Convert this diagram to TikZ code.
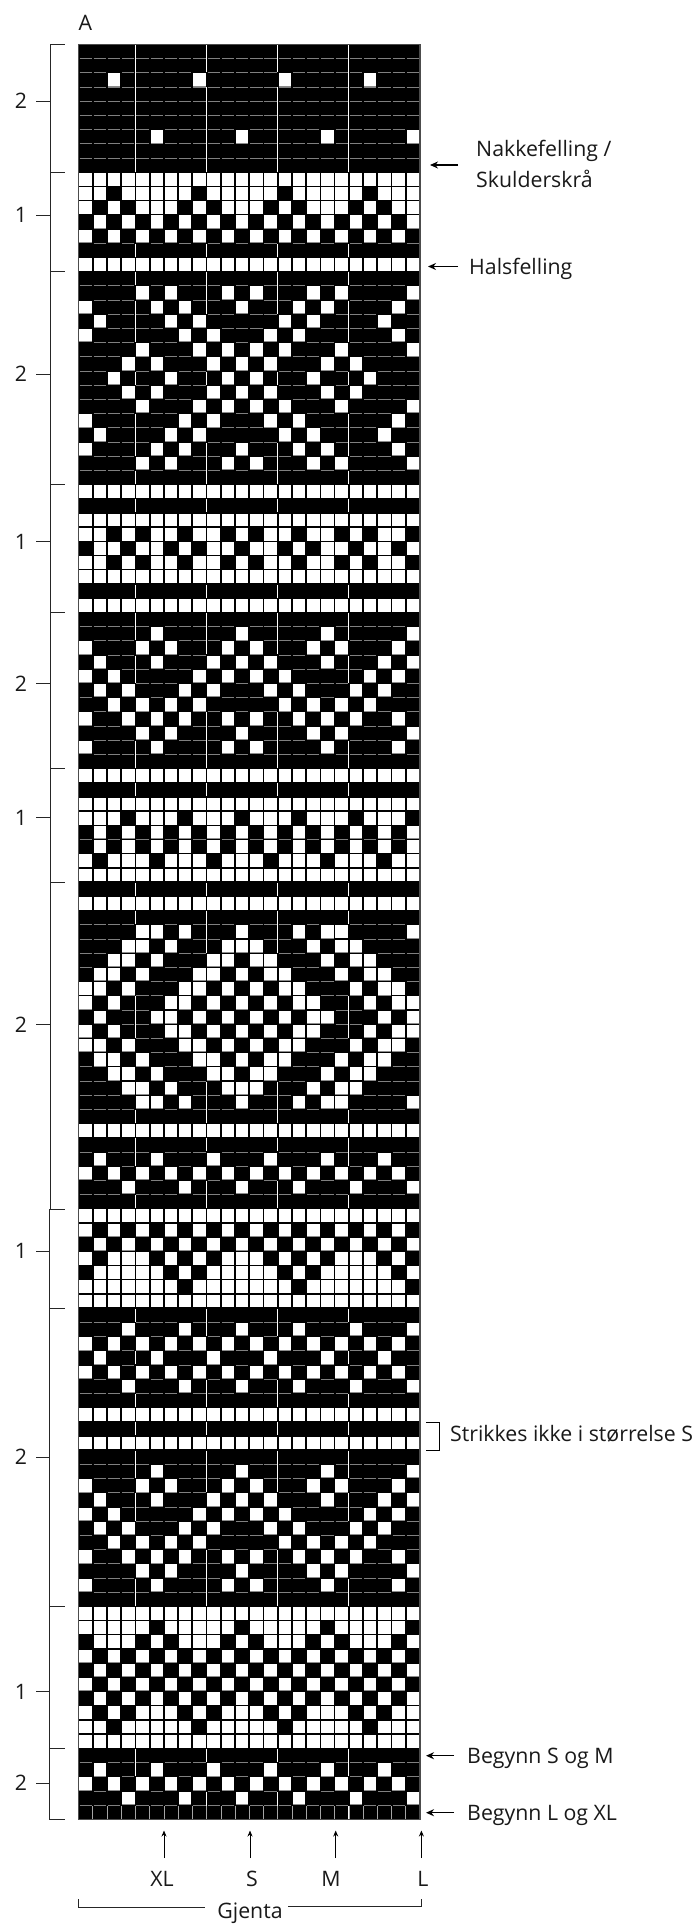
\documentclass[tikz,border=0pt]{standalone}
\usepackage{fontspec}
\setmainfont{Open Sans}
\usetikzlibrary{arrows.meta}
\newcommand\gridL{78.5}
\newcommand\gridT{44.3}
\newcommand\cw{14.23}
\newcommand\rh{14.2}
% white cells in a row
\newcommand\putW[2]{\pgfmathsetmacro\xa{\gridL+\cw*(#2-1)}\pgfmathsetmacro\ya{\gridT+\rh*(#1-1)}%
 \fill[black] (\xa-.6,\ya-.6) rectangle ++(\cw+1.2,\rh+1.2);%
 \fill[white] (\xa+.85,\ya+.65) rectangle ++(\cw-1.7,\rh-1.3);}
\newcommand\putG[2]{\putW{#1}{#2}\fill[black!45] (\xa+.85,\ya+\rh-1.15) rectangle ++(\cw-1.7,.6);}
\newcommand\putB[2]{\pgfmathsetmacro\xa{\gridL+\cw*(#2-1)}\pgfmathsetmacro\ya{\gridT+\rh*(#1-1)}%
 \fill[black] (\xa,\ya) rectangle ++(\cw,\rh);}
\newcommand\W[2]{\foreach \cc in {#2}{\putG{#1}{\cc}}}
\newcommand\A[1]{\foreach \cc in {1,...,24}{\putW{#1}{\cc}}}
\newcommand\B[2]{\A{#1}\foreach \cc in {#2}{\putB{#1}{\cc}}}
\newcommand\Wodd[1]{\W{#1}{1,3,...,23}}
\newcommand\Weven[1]{\W{#1}{2,4,...,24}}
\tikzset{
  lab/.style={inner sep=0pt,font=\fontsize{21.3}{25}\selectfont,text=black!90},
  brk/.style={line width=.9pt,draw=black!85},
  arr/.style={line width=1pt,-{Stealth[length=6pt,width=5pt]}},
  arrb/.style={line width=1.3pt,-{Stealth[length=8pt,width=7pt]}},
}
\begin{document}
\begin{tikzpicture}[x=1pt,y=-1pt]
\useasboundingbox (0,0) rectangle (697,1924);
\fill[white] (0,0) rectangle (697,1924);
% chart ground
\fill[black] (\gridL,44.3) rectangle (420,1819.3);
% grey row lines
\foreach \r in {1,...,124}{
  \pgfmathsetmacro\yy{\gridT+\rh*\r}
  \draw[draw=black!50,line width=.7pt,dash pattern=on 12.3pt off 1.93pt,dash phase=-1pt] (\gridL,\yy) -- (420,\yy);
}
% repeat separators
\foreach \c in {4,9,14,19}{
  \pgfmathsetmacro\xx{\gridL+\cw*\c-.3}
  \draw[white,line width=.7pt] (\xx,\gridT) -- (\xx,1819.3);
}
% bottom row cell lines
\foreach \c in {1,...,23}{
  \pgfmathsetmacro\xx{\gridL+\cw*\c}
  \draw[black!35,line width=.6pt] (\xx,1806) -- (\xx,1819);
}
% white cells
\W{3}{3,9,15,21}
\W{7}{6,12,18,24}
\A{10}
\B{11}{3,9,15,21}
\B{12}{2,4,8,10,14,16,20,22}
\Weven{13}
\Wodd{14}
\A{16}
\W{18}{5,7,11,13,17,19,24}
\W{19}{1,6,8,12,16,18,23}
\W{20}{2,7,9,15,17,22}
\W{21}{1,8,10,14,16,23}
\W{22}{5,9,11,13,15,19,24}
\W{23}{4,6,10,12,14,18,20}
\W{24}{3,7,11,13,17,21}
\W{25}{4,6,10,12,14,18,20}
\W{26}{5,9,11,13,15,19,24}
\W{27}{1,8,10,14,16,23}
\W{28}{2,7,9,15,17,22}
\W{29}{1,6,8,12,16,18,23}
\W{30}{5,7,11,13,17,19,24}
\A{32}
\A{34}
\B{35}{3,5,8,11,13,16,19,21,24}
\B{36}{1,4,7,9,12,15,17,20,23}
\B{37}{3,5,8,11,13,16,19,21,24}
\A{38}
\A{40}
\W{42}{6,12,18,24}
\W{43}{1,5,7,11,13,17,19,23}
\W{44}{2,6,10,12,14,18,22,24}
\W{45}{1,3,9,11,13,15,21,23}
\W{46}{2,4,8,10,14,16,20,22}
\W{47}{3,5,7,9,15,17,19,21}
\W{48}{1,4,6,8,11,13,16,18,20,23}
\W{49}{5,7,12,17,19,24}
\W{50}{1,6,11,13,18,23}
\A{52}
\A{54}
\B{55}{4,8,12,16,20,24}
\Weven{56}
\Weven{57}
\B{58}{2,6,10,14,18,22}
\A{59}
\A{61}
\W{63}{5,6,8,12,16,18,19,24}
\W{64}{4,5,7,11,12,13,17,19,20}
\W{65}{3,4,6,10,11,13,14,18,20,21}
\W{66}{2,3,5,9,10,12,14,15,19,21,22}
\W{67}{1,2,4,8,9,11,13,15,16,20,22,23}
\W{68}{1,3,7,8,10,12,14,16,17,21,23,24}
\W{69}{2,6,7,9,11,13,15,17,18,22,24}
\W{70}{1,3,7,8,10,12,14,16,17,21,23,24}
\W{71}{1,2,4,8,9,11,13,15,16,20,22,23}
\W{72}{2,3,5,9,10,12,14,15,19,21,22}
\W{73}{3,4,6,10,11,13,14,18,20,21}
\W{74}{4,5,7,11,12,13,17,19,20}
\W{75}{5,6,8,12,16,18,19,24}
\A{77}
\W{79}{2,6,10,14,18,22}
\Wodd{80}
\W{81}{4,8,12,16,20,24}
\A{83}
\Wodd{84}
\Weven{85}
\B{86}{2,6,8,10,14,16,18,22,24}
\B{87}{1,7,9,15,17,23}
\B{88}{8,16,24}
\A{89}
\W{91}{4,8,12,16,20,24}
\Wodd{92}
\W{93}{2,6,10,14,18,22}
\Wodd{94}
\W{95}{4,8,12,16,20,24}
\A{97}
\A{99}
\W{101}{6,12,18,24}
\W{102}{1,5,7,11,13,17,19,23}
\W{103}{2,6,10,12,14,18,22,24}
\W{104}{1,3,9,11,13,15,21,23}
\W{105}{2,4,8,10,14,16,20,22}
\W{106}{3,5,7,9,15,17,19,21}
\W{107}{1,4,6,8,11,13,16,18,20,23}
\W{108}{5,7,12,17,19,24}
\W{109}{1,6,11,13,18,23}
\A{111}
\B{112}{6,12,18,24}
\B{113}{1,5,7,11,13,17,19,23}
\Wodd{114}
\Weven{115}
\Wodd{116}
\Weven{117}
\B{118}{2,4,8,10,14,16,20,22}
\B{119}{3,9,15,21}
\A{120}
\W{122}{2,6,10,14,18,22}
\Wodd{123}
\W{124}{4,8,12,16,20,24}
% border
\draw[black!70,line width=1.3pt] (78.5,44.3) rectangle (420,1819.3);
% left brackets
\draw[brk] (64.5,44.3) -- (50.5,44.3) -- (50.5,1209) ;
\draw[brk] (64.5,1209) -- (49.5,1209) -- (49.5,1819.3) -- (64.5,1819.3);
\foreach \y in {172.2,271.6,484.5,612.4,768.6,882.2,1308.4,1606.3,1748.3}{
  \draw[brk] (\ifdim\y pt<1209pt 50.5\else 49.5\fi,\y) -- (64.5,\y);
}
\foreach \y/\t in {101/2,215/1,374/2,541.7/1,683.7/2,817.7/1,1024.3/2,1251/1,1457/2,1691.7/1,1783/2}{
  \draw[brk] (36,\y) -- (\ifdim\y pt<1209pt 50.5\else 49.5\fi,\y);
  \node[lab] (n\y) at (21,\y) {\t};
}
\node[lab,anchor=base west] (A) at (78.5,31) {A};
% right notes
\node[lab,anchor=west] (nakke1) at (476,151) {Nakkefelling /};
\node[lab,anchor=west] (nakke2) at (476,179) {Skulderskrå};
\coordinate (n1t) at (458,165); \coordinate (n1h) at (430,165);
\draw[arrb] (n1t) -- (n1h);
\node[lab,anchor=west] (hals) at (469,269) {Halsfelling};
\coordinate (n2t) at (458,266.5); \coordinate (n2h) at (428,266.5);
\draw[arrb] (n2t) -- (n2h);
\coordinate (b1) at (426,1422); \coordinate (b2) at (439,1422); \coordinate (b3) at (439,1450); \coordinate (b4) at (426,1450);
\draw[line width=1pt] (b1) -- (b2) -- (b3) -- (b4);
\node[lab,anchor=west] (strik) at (450,1434) {Strikkes ikke i størrelse S};
\node[lab,anchor=west] (bsm) at (467,1758) {Begynn S og M};
\coordinate (n3t) at (454,1755.7); \coordinate (n3h) at (426,1755.7);
\draw[arrb] (n3t) -- (n3h);
\node[lab,anchor=west] (blx) at (467,1815) {Begynn L og XL};
\coordinate (n4t) at (454,1812.7); \coordinate (n4h) at (426,1812.7);
\draw[arrb] (n4t) -- (n4h);
% bottom arrows
\foreach \x/\lx/\t/\n in {164/162/XL/xl,250/252/S/s,335.7/331/M/m,421.4/423/L/l}{
  \coordinate (u\n t) at (\x,1858); \coordinate (u\n h) at (\x,1830.5);
  \draw[arr] (u\n t) -- (u\n h);
  \node[lab] (size\n) at (\lx,1879) {\t};
}
\node[lab] (gj) at (250,1913) {Gjenta};
\coordinate (g1) at (78.6,1899); \coordinate (g2) at (78.6,1907); \coordinate (g3) at (205,1907);
\coordinate (g4) at (288,1906.5); \coordinate (g5) at (421.4,1906.5); \coordinate (g6) at (421.4,1899);
\draw[brk] (g1) -- (g2) -- (g3);
\draw[brk] (g4) -- (g5) -- (g6);
\end{tikzpicture}
\end{document}
